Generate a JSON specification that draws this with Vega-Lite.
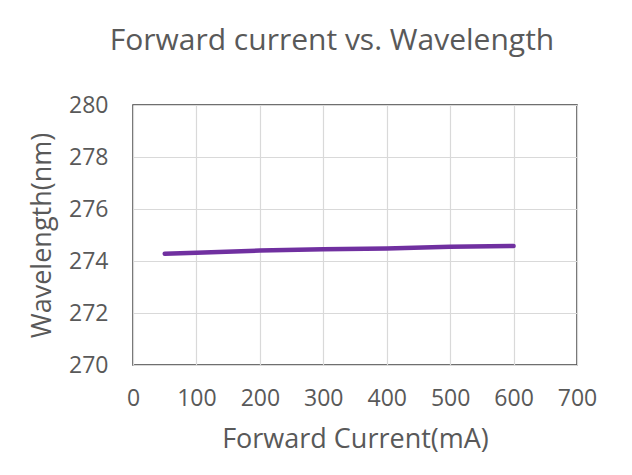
{
  "$schema": "https://vega.github.io/schema/vega-lite/v6.json",
  "width": 444,
  "height": 260,
  "autosize": "none",
  "padding": {"left": 133, "top": 105, "right": 55, "bottom": 110},
  "background": "white",
  "title": {
    "text": "Forward current vs. Wavelength",
    "font": "Open Sans",
    "fontSize": 30,
    "fontWeight": "normal",
    "color": "#595959",
    "anchor": "middle",
    "dx": -23,
    "offset": 38
  },
  "data": {
    "values": [
      {"current": 50, "wavelength": 274.28},
      {"current": 100, "wavelength": 274.32},
      {"current": 200, "wavelength": 274.40},
      {"current": 300, "wavelength": 274.45},
      {"current": 400, "wavelength": 274.48},
      {"current": 500, "wavelength": 274.55},
      {"current": 600, "wavelength": 274.58}
    ]
  },
  "mark": {"type": "line", "color": "#7030A0", "strokeWidth": 4.5, "strokeCap": "round"},
  "encoding": {
    "x": {
      "field": "current",
      "type": "quantitative",
      "scale": {"domain": [0, 700], "nice": false},
      "axis": {"values": [0, 100, 200, 300, 400, 500, 600, 700], "title": "Forward Current(mA)", "labelPadding": 22, "titlePadding": 16, "labelFlush": false, "labelOverlap": false}
    },
    "y": {
      "field": "wavelength",
      "type": "quantitative",
      "scale": {"domain": [270, 280], "nice": false, "zero": false},
      "axis": {"values": [270, 272, 274, 276, 278, 280], "title": "Wavelength(nm)", "labelPadding": 25, "titlePadding": 12, "labelFlush": false, "labelOverlap": false}
    }
  },
  "config": {
    "view": {"stroke": "#404040", "strokeWidth": 1.5},
    "axis": {
      "domain": false,
      "ticks": false,
      "grid": true,
      "gridColor": "#d9d9d9",
      "gridWidth": 1.2,
      "labelFont": "Open Sans",
      "labelFontSize": 23,
      "labelColor": "#595959",
      "titleFont": "Open Sans",
      "titleFontSize": 27,
      "titleFontWeight": "normal",
      "titleColor": "#595959"
    }
  }
}
